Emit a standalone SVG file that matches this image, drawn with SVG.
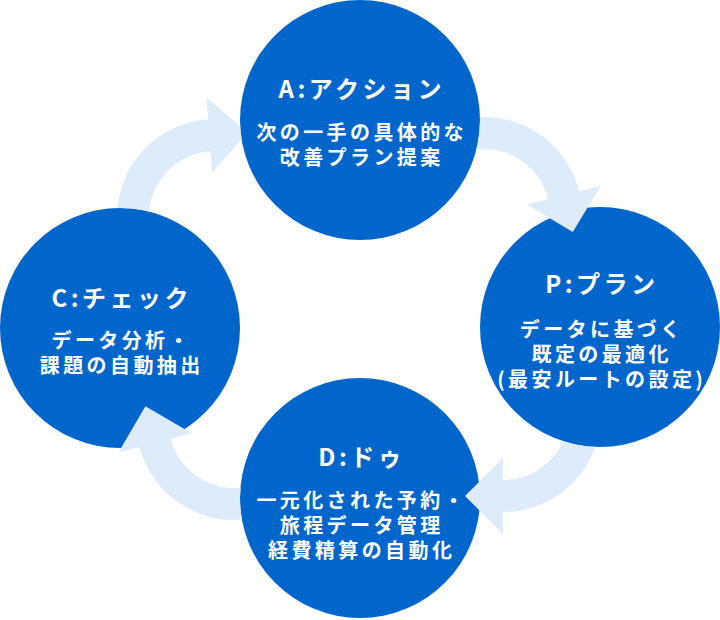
<svg xmlns="http://www.w3.org/2000/svg" width="720" height="620" viewBox="0 0 720 620">
<style>
.node{fill:#0066cc}
.arrow{fill:none;stroke:#deebfa;stroke-width:32}
.head{fill:#deebfa}
.t{font-family:"Noto Sans CJK JP","Noto Sans",sans-serif;font-weight:700;fill:#ffffff;text-anchor:middle}
.title{font-size:24px;letter-spacing:3.5px}
.body{font-size:20px;letter-spacing:3.4px}
</style>
<defs>
<mask id="m1" maskUnits="userSpaceOnUse" x="0" y="0" width="720" height="620">
<rect x="0" y="0" width="720" height="620" fill="#fff"/>
<circle cx="120" cy="328" r="120" fill="#000"/>
<circle cx="360" cy="120" r="120" fill="#000"/>
</mask>
<mask id="m2" maskUnits="userSpaceOnUse" x="0" y="0" width="720" height="620">
<rect x="0" y="0" width="720" height="620" fill="#fff"/>
<circle cx="360" cy="120" r="120" fill="#000"/>
</mask>
<mask id="m3" maskUnits="userSpaceOnUse" x="0" y="0" width="720" height="620">
<rect x="0" y="0" width="720" height="620" fill="#fff"/>
<circle cx="600" cy="327" r="120" fill="#000"/>
</mask>
<mask id="m4" maskUnits="userSpaceOnUse" x="0" y="0" width="720" height="620">
<rect x="0" y="0" width="720" height="620" fill="#fff"/>
<circle cx="360" cy="498" r="120" fill="#000"/>
</mask>
</defs>
<rect x="0" y="0" width="720" height="620" fill="#ffffff"/>

<g id="node-a">
<circle class="node" cx="360" cy="120" r="120"/>
<text class="t title" x="361.8" y="98">A:アクション</text>
<text class="t body" x="361.7" y="140">次の一手の具体的な</text>
<text class="t body" x="361.7" y="165">改善プラン提案</text>
</g>
<g id="node-p">
<circle class="node" cx="600" cy="327" r="120"/>
<text class="t title" x="601.8" y="293">P:プラン</text>
<text class="t body" x="601.7" y="337">データに基づく</text>
<text class="t body" x="601.7" y="362">既定の最適化</text>
<text class="t body" x="601.7" y="387">(最安ルートの設定)</text>
</g>
<g id="node-d">
<circle class="node" cx="360" cy="498" r="120"/>
<text class="t title" x="361.8" y="466">D:ドゥ</text>
<text class="t body" x="361.7" y="508">一元化された予約・</text>
<text class="t body" x="361.7" y="533">旅程データ管理</text>
<text class="t body" x="361.7" y="558">経費精算の自動化</text>
</g>
<g id="node-c">
<circle class="node" cx="120" cy="328" r="120"/>
<text class="t title" x="121.8" y="307">C:チェック</text>
<text class="t body" x="121.7" y="348">データ分析・</text>
<text class="t body" x="121.7" y="373">課題の自動抽出</text>
</g>

<g id="connectors">
<g id="arrow-c-a" mask="url(#m1)">
<path class="arrow" d="M133,217 A82,82 0 0 1 210.7,135.2"/>
<polygon class="head" points="206.6,97.3 247.2,132.6 212.0,173.1"/>
</g>
<g id="arrow-a-p" mask="url(#m2)">
<path class="arrow" d="M455.95,137.95 A82,82 0 0 1 563.9,196.55"/>
<polygon class="head" points="600.5,186.0 572.8,232.1 526.7,204.4"/>
</g>
<g id="arrow-p-d" mask="url(#m3)">
<path class="arrow" d="M585,414 A82,82 0 0 1 501.57,495.99"/>
<polygon class="head" points="503,534 465,496 503,458"/>
</g>
<g id="arrow-d-c" mask="url(#m4)">
<path class="arrow" d="M262.45,499.05 A82,82 0 0 1 154.77,441.56"/>
<polygon class="head" points="118.4,452.6 145.4,406.2 191.8,433.2"/>
</g>
</g>
</svg>
